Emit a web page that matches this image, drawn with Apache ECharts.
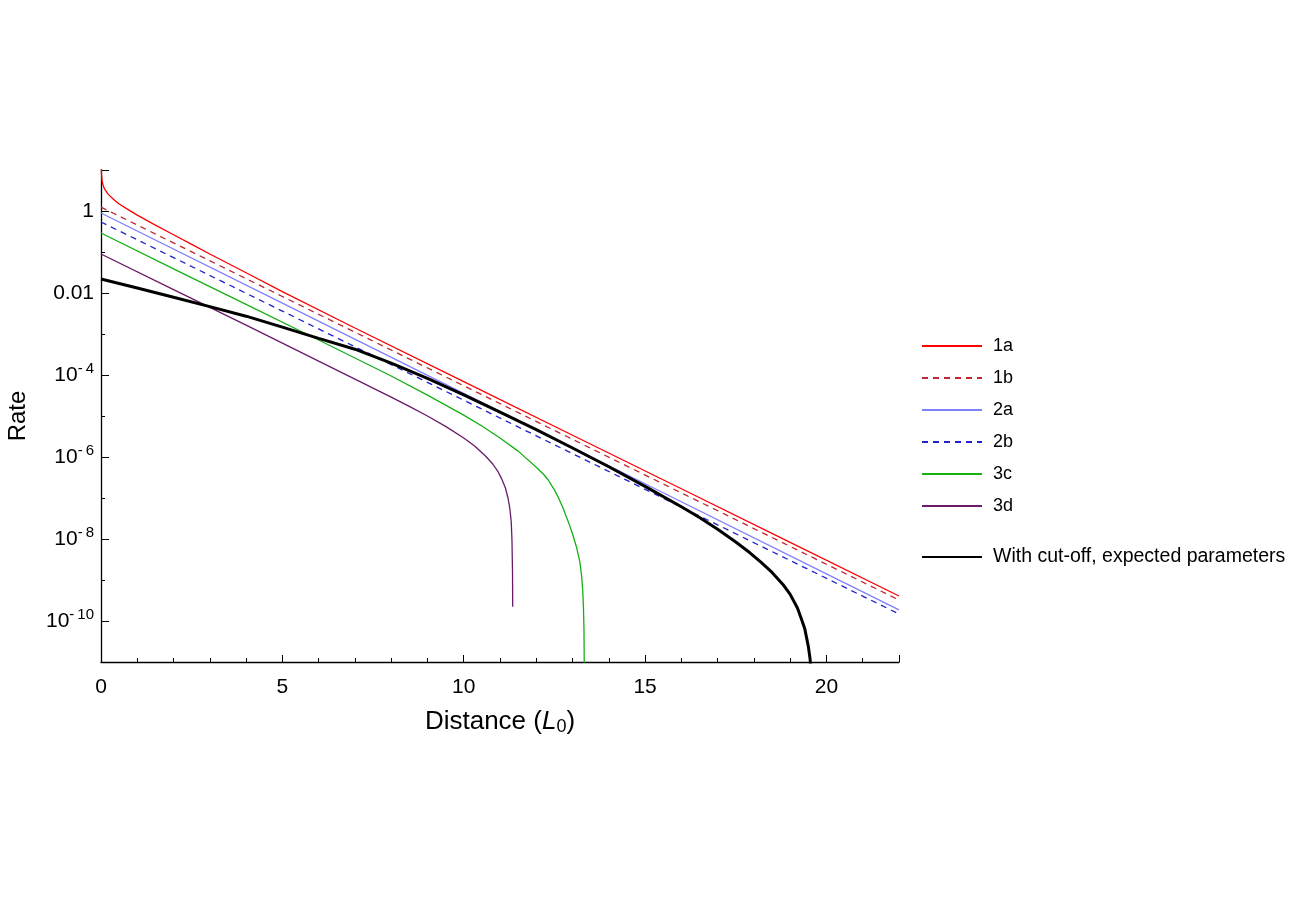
<!DOCTYPE html>
<html><head><meta charset="utf-8">
<script src="https://cdn.jsdelivr.net/npm/echarts@6/dist/echarts.min.js"></script>
<style>html,body{margin:0;padding:0;background:#fff}#c{width:1296px;height:905px}</style>
</head><body><div id="c"></div>
<script>
// ---- data (Distance in L0, Rate) ----
const x1a = [0.002, 0.01, 0.03, 0.06, 0.1, 0.2, 0.35, 0.5, 0.75, 1.0, 1.5, 2.0, 2.5, 3.0, 4.0, 5.0, 7.0, 10, 13, 16, 19, 22];
const rate1a = [17.5, 8.94, 5.46, 4.16, 3.40, 2.54, 1.90, 1.48, 1.08, 0.791, 0.451, 0.263, 0.153, 0.0893, 0.0311, 0.0108, 1.40e-3, 6.90e-5, 3.40e-6, 1.68e-7, 8.26e-9, 4.07e-10];

const x1b = [0, 5, 10, 15, 20, 22];
const rate1b = [1.24, 8.22e-3, 5.47e-5, 3.63e-7, 2.42e-9, 3.25e-10];

const x2a = [0, 5, 10, 15, 20, 22];
const rate2a = [0.893, 5.64e-3, 3.55e-5, 2.23e-7, 1.41e-9, 1.86e-10];

const x2b = [0, 5, 10, 15, 20, 22];
const rate2b = [0.540, 3.62e-3, 2.43e-5, 1.63e-7, 1.10e-9, 1.48e-10];

const x3c = [0, 2, 4, 6, 8, 9, 10, 10.5, 11, 11.5, 12, 12.2, 12.33, 12.5, 12.6, 12.74, 12.9, 13.0, 13.11, 13.2, 13.25, 13.28, 13.3, 13.315, 13.325];
const rate3c = [0.290, 0.0389, 5.27e-3, 7.14e-4, 9.46e-5, 3.22e-5, 1.05e-5, 5.70e-6, 2.91e-6, 1.39e-6, 5.64e-7, 3.80e-7, 2.75e-7, 1.58e-7, 1.07e-7, 5.62e-8, 2.40e-8, 1.32e-8, 6.3e-9, 2.82e-9, 1.26e-9, 5.62e-10, 2.24e-10, 6.3e-11, 5.0e-12];

const x3d = [0, 2, 4, 6, 8, 8.5, 9, 9.5, 10, 10.3, 10.6, 10.8, 10.95, 11.05, 11.15, 11.22, 11.27, 11.31, 11.33, 11.345, 11.35];
const rate3d = [0.0894, 0.0121, 1.64e-3, 2.17e-4, 2.88e-5, 1.71e-5, 1.0e-5, 5.57e-6, 2.90e-6, 1.85e-6, 1.06e-6, 6.75e-7, 4.31e-7, 2.88e-7, 1.75e-7, 1.0e-7, 5.70e-8, 2.60e-8, 9.46e-9, 1.57e-9, 2.22e-10];

const xCut = [0, 1, 2, 3, 4, 5, 6, 7, 8, 9, 10, 11, 12, 13, 14, 15, 16, 16.5, 17, 17.5, 17.89, 18.2, 18.5, 18.8, 19.0, 19.2, 19.3, 19.4, 19.5, 19.55, 19.6];
const rateCut = [0.0219, 0.01324, 7.9e-3, 4.66e-3, 2.72e-3, 1.47e-3, 7.8e-4, 4.26e-4, 1.94e-4, 8.26e-5, 3.29e-5, 1.25e-5, 4.66e-6, 1.66e-6, 5.77e-7, 1.92e-7, 6.1e-8, 3.33e-8, 1.73e-8, 8.45e-9, 4.61e-9, 2.69e-9, 1.53e-9, 7.8e-10, 4.46e-10, 2.07e-10, 1.18e-10, 6.6e-11, 2.40e-11, 1.17e-11, 1.95e-12];

const seriesNames = ['1a', '1b', '2a', '2b', '3c', '3d', 'With cut-off, expected parameters'];
const xTickLabels = [0, 5, 10, 15, 20];
const yTickExponents = [0, -2, -4, -6, -8, -10];

// ---- build ----
const FONT = '"Liberation Sans", Arial, Helvetica, sans-serif';
function pts(xs, rs) { return xs.map((x, i) => [x, Math.log10(rs[i])]); }
function mk(name, xs, rs, color, width, type) {
  return {
    name: name, type: 'line', data: pts(xs, rs),
    symbol: 'none', showSymbol: false, clip: true, animation: false,
    lineStyle: { color: color, width: width, type: type },
    itemStyle: { color: color }
  };
}
const series = [
  mk(seriesNames[0], x1a, rate1a, '#ff0000', 1.3, 'solid'),
  mk(seriesNames[1], x1b, rate1b, '#bf2630', 1.3, [6, 5]),
  mk(seriesNames[2], x2a, rate2a, '#8080ff', 1.3, 'solid'),
  mk(seriesNames[3], x2b, rate2b, '#2222cc', 1.3, [6, 5]),
  mk(seriesNames[4], x3c, rate3c, '#14b014', 1.3, 'solid'),
  mk(seriesNames[5], x3d, rate3d, '#6a1a6a', 1.3, 'solid'),
  mk(seriesNames[6], xCut, rateCut, '#000000', 3, 'solid')
];

const legendCommon = {
  orient: 'vertical', left: 921, itemWidth: 60, itemHeight: 14, padding: 0,
  itemStyle: { color: 'transparent', borderColor: 'transparent', borderWidth: 0, opacity: 0 }
};

const chart = echarts.init(document.getElementById('c'), null, { renderer: 'canvas' });
chart.setOption({
  animation: false,
  backgroundColor: '#fff',
  textStyle: { fontFamily: FONT },
  grid: { left: 101, right: 397, top: 170, bottom: 243, containLabel: false, outerBoundsMode: 'none' },
  legend: [
    Object.assign({}, legendCommon, {
      data: seriesNames.slice(0, 6), top: 337, itemGap: 14,
      textStyle: { fontSize: 18, color: '#000', fontFamily: FONT, padding: [0, 0, 0, 6] }
    }),
    Object.assign({}, legendCommon, {
      data: [seriesNames[6]], top: 547,
      textStyle: { fontSize: 19.5, color: '#000', fontFamily: FONT, padding: [0, 0, 0, 6] }
    })
  ],
  xAxis: {
    type: 'value', min: 0, max: 22, interval: 5,
    axisLine: { show: true, onZero: false, lineStyle: { color: '#000', width: 1.3 } },
    axisTick: { show: true, inside: true, length: 7, lineStyle: { color: '#000', width: 1 } },
    minorTick: { show: true, splitNumber: 5, length: 4, lineStyle: { color: '#000', width: 1 } },
    splitLine: { show: false },
    axisLabel: { fontSize: 21, color: '#000', margin: 15, fontFamily: FONT,
      formatter: v => xTickLabels.includes(v) ? String(v) : '' },
    name: '{n|Distance (}{i|L}{s|0}{n|)}',
    nameLocation: 'middle', nameGap: 46,
    nameTextStyle: {
      rich: {
        n: { fontSize: 26, color: '#000', fontFamily: FONT },
        i: { fontSize: 26, color: '#000', fontStyle: 'italic', fontFamily: FONT },
        s: { fontSize: 18, color: '#000', fontFamily: FONT, padding: [10, 0, 0, 0] }
      }
    }
  },
  yAxis: {
    type: 'value', min: -11, max: 1,
    axisLine: { show: true, onZero: false, lineStyle: { color: '#000', width: 1.3 } },
    axisTick: { show: true, inside: true, length: 8, lineStyle: { color: '#000', width: 1 } },
    minorTick: { show: true, splitNumber: 2, length: 4, lineStyle: { color: '#000', width: 1 } },
    splitLine: { show: false },
    axisLabel: {
      margin: 7, color: '#000', fontFamily: FONT,
      formatter: function (v) {
        const e = Math.round(v);
        if (Math.abs(v - e) > 1e-6 || !yTickExponents.includes(e)) return '';
        if (e === 0) return '{b|1}';
        if (e === -2) return '{b|0.01}';
        return '{b|10}{s|-\u2009' + (-e) + '}';
      },
      rich: {
        b: { fontSize: 21, color: '#000', fontFamily: FONT },
        s: { fontSize: 15, color: '#000', fontFamily: FONT, padding: [0, 0, 12, 0] }
      }
    },
    name: 'Rate', nameLocation: 'middle', nameGap: 71,
    nameTextStyle: { fontSize: 24, color: '#000', fontFamily: FONT }
  },
  series: series
});
</script>
</body></html>
